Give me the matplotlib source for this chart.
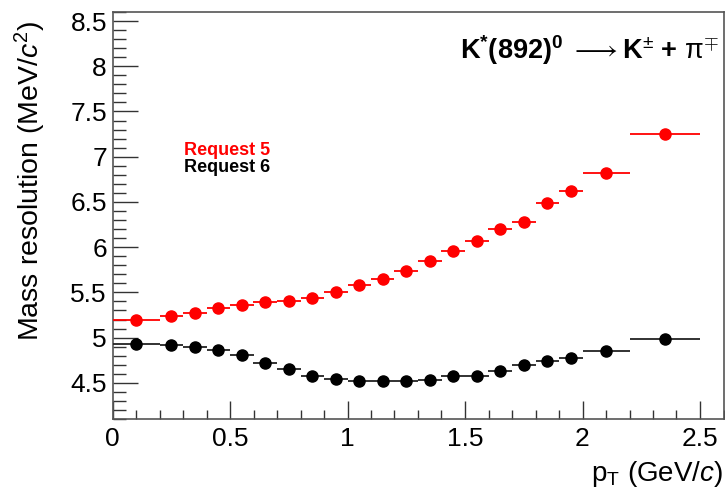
import matplotlib
matplotlib.use("Agg")
import matplotlib.pyplot as plt
from matplotlib.ticker import MultipleLocator
import numpy as np

plt.rcParams['font.family'] = ['Liberation Sans', 'DejaVu Sans']
plt.rcParams['mathtext.fontset'] = 'custom'
plt.rcParams['mathtext.rm'] = 'Liberation Sans'
plt.rcParams['mathtext.it'] = 'Liberation Sans:italic'
plt.rcParams['mathtext.bf'] = 'Liberation Sans:bold'

# bin centres and half-widths (GeV/c)
pt = [0.1, 0.25, 0.35, 0.45, 0.55, 0.65, 0.75, 0.85, 0.95, 1.05, 1.15,
      1.25, 1.35, 1.45, 1.55, 1.65, 1.75, 1.85, 1.95, 2.1, 2.35]
pt_err = [0.1] + [0.05] * 18 + [0.1, 0.15]

request5 = [5.19, 5.24, 5.27, 5.33, 5.36, 5.39, 5.41, 5.44, 5.50, 5.58, 5.65,
            5.74, 5.85, 5.96, 6.07, 6.20, 6.28, 6.49, 6.62, 6.82, 7.25]
request6 = [4.93, 4.92, 4.90, 4.86, 4.81, 4.72, 4.65, 4.58, 4.54, 4.52, 4.52,
            4.52, 4.53, 4.57, 4.57, 4.63, 4.70, 4.74, 4.77, 4.85, 4.99]

fig = plt.figure(figsize=(7.25, 4.96), dpi=100)
ax = fig.add_axes([112.5 / 725, 1 - 419 / 496, (723.5 - 112.5) / 725, (419 - 12) / 496])

ax.errorbar(pt, request5, xerr=pt_err, fmt='o', color='#ff0000', ms=8,
            elinewidth=1.3, capsize=0, zorder=3)
ax.errorbar(pt, request6, xerr=pt_err, fmt='o', color='black', ms=8,
            elinewidth=1.3, ecolor='#222222', capsize=0, zorder=3)

ax.set_xlim(0, 2.6)
ax.set_ylim(4.1, 8.6)
ax.xaxis.set_minor_locator(MultipleLocator(0.1))
ax.yaxis.set_minor_locator(MultipleLocator(0.1))
ax.set_xticks([0, 0.5, 1, 1.5, 2, 2.5])
ax.set_xticklabels(['0', '0.5', '1', '1.5', '2', '2.5'])
ax.set_yticks([4.5, 5, 5.5, 6, 6.5, 7, 7.5, 8, 8.5])
ax.set_yticklabels(['4.5', '5', '5.5', '6', '6.5', '7', '7.5', '8', '8.5'])

ax.tick_params(axis='x', which='major', direction='in', length=13, width=1,
               color='#333333', labelsize=19, pad=6, top=False)
ax.tick_params(axis='x', which='minor', direction='in', length=6.5, width=1,
               color='#333333', top=False)
ax.tick_params(axis='y', which='major', direction='in', length=18, width=1,
               color='#333333', labelsize=19, pad=4, right=False)
ax.tick_params(axis='y', which='minor', direction='in', length=9, width=1,
               color='#333333', right=False)
for s in ax.spines.values():
    s.set_color('#555555')
    s.set_linewidth(1.2)

fig.text(0.997, 1 - 474 / 496, r'p$_{\mathrm{T}}$ (GeV/$\mathit{c}$)', ha='right',
         va='center', fontsize=20)
fig.text(30 / 725, 1 - 181 / 496, r'Mass resolution (MeV/$\mathit{c}^{2}$)', rotation=90,
         ha='center', va='center', fontsize=20.5)

fig.text(719 / 725, 1 - 50 / 496,
         r'K$^{\mathbf{*}}$(892)$^{\mathbf{0}}$ $\longrightarrow$K$^{\pm}$ + $\mathrm{\pi}^{\mp}$',
         ha='right', va='center', fontsize=19.5, fontweight='bold')

fig.text(184 / 725, 1 - 150 / 496, 'Request 5', color='#ff0000', fontsize=13,
         fontweight='bold', va='center')
fig.text(184 / 725, 1 - 168 / 496, 'Request 6', color='black', fontsize=13,
         fontweight='bold', va='center')

fig.savefig('out.png', dpi=100)
